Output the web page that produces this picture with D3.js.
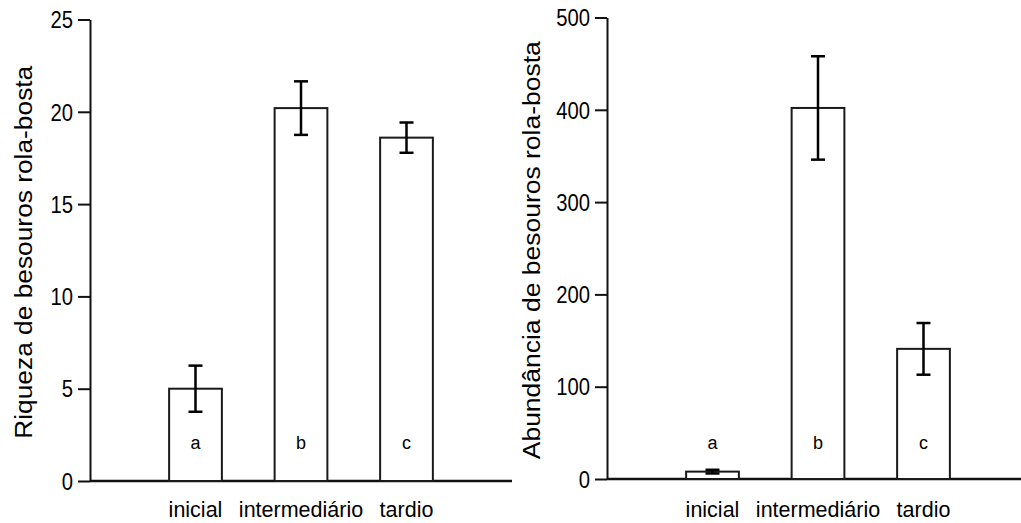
<!DOCTYPE html>
<html>
<head>
<meta charset="utf-8">
<script src="https://cdn.jsdelivr.net/npm/d3@7"></script>
<style>
  html, body { margin: 0; padding: 0; background: #fff; }
  svg { display: block; font-family: "Liberation Sans", Arial, sans-serif; }
</style>
</head>
<body>
<svg id="chart" width="1021" height="523"></svg>
<script>
// Successional stages
const categories = ["inicial", "intermediário", "tardio"];

// Species richness (mean ± error)
const richnessMean = [5.0, 20.2, 18.6];
const richnessErr  = [1.25, 1.45, 0.82];
const richnessTicks = [0, 5, 10, 15, 20, 25];

// Abundance (mean ± error)
const abundanceMean = [8, 402, 141];
const abundanceErr  = [2, 56, 28];
const abundanceTicks = [0, 100, 200, 300, 400, 500];

// Significance letters
const groupLetters = ["a", "b", "c"];

const svg = d3.select("#chart");

function drawPanel(opts) {
  const { x0, x1, yBottom, yTop, yMax, means, errs, ticks, title, titleX, titleLen } = opts;
  const g = svg.append("g");

  const x = d3.scalePoint().domain(categories).range([x0, x1]).padding(1);
  const y = d3.scaleLinear().domain([0, yMax]).range([yBottom, yTop]);
  const barW = x.step() * 0.5;

  // y axis
  const tickScale = 0.88;
  const axis = d3.axisLeft(y).tickValues(ticks).tickSize(12).tickSizeOuter(0).tickPadding(0);
  const ax = g.append("g").attr("transform", `translate(${x0},0)`).call(axis);
  ax.select(".domain").attr("stroke", "#111").attr("stroke-width", 2);
  ax.selectAll(".tick line").attr("stroke", "#111").attr("stroke-width", 2);
  ax.selectAll(".tick text")
    .attr("fill", "#000")
    .attr("font-size", 23)
    .attr("font-family", "Liberation Sans, Arial, sans-serif")
    .attr("x", -17 / tickScale)
    .attr("dy", "0.36em")
    .attr("transform", `scale(${tickScale},1)`);

  // baseline
  g.append("line")
    .attr("x1", x0).attr("x2", x1)
    .attr("y1", y(0)).attr("y2", y(0))
    .attr("stroke", "#111").attr("stroke-width", 2.5);

  // bars
  g.selectAll("rect.bar").data(categories).join("rect")
    .attr("class", "bar")
    .attr("x", d => x(d) - barW / 2)
    .attr("width", barW)
    .attr("y", (d, i) => y(means[i]))
    .attr("height", (d, i) => y(0) - y(means[i]))
    .attr("fill", "#fff")
    .attr("stroke", "#1a1a1a")
    .attr("stroke-width", 2);

  // error bars
  const capW = 14;
  const eb = g.selectAll("g.err").data(categories).join("g").attr("class", "err");
  eb.append("line")
    .attr("x1", d => x(d)).attr("x2", d => x(d))
    .attr("y1", (d, i) => y(means[i] + errs[i]))
    .attr("y2", (d, i) => y(means[i] - errs[i]))
    .attr("stroke", "#000").attr("stroke-width", 2.5);
  [1, -1].forEach(s => {
    eb.append("line")
      .attr("x1", d => x(d) - capW / 2).attr("x2", d => x(d) + capW / 2)
      .attr("y1", (d, i) => y(means[i] + s * errs[i]))
      .attr("y2", (d, i) => y(means[i] + s * errs[i]))
      .attr("stroke", "#000").attr("stroke-width", 2.5);
  });

  // letters
  g.selectAll("text.letter").data(categories).join("text")
    .attr("class", "letter")
    .attr("x", d => x(d))
    .attr("y", 449)
    .attr("text-anchor", "middle")
    .attr("font-size", 18)
    .attr("fill", "#000")
    .text((d, i) => groupLetters[i]);

  // category labels
  g.selectAll("text.cat").data(categories).join("text")
    .attr("class", "cat")
    .attr("x", d => x(d))
    .attr("y", 517)
    .attr("text-anchor", "middle")
    .attr("font-size", 21.5)
    .attr("fill", "#000")
    .text(d => d);

  // y title
  const mid = (yTop + yBottom) / 2 + 2;
  g.append("text")
    .attr("transform", `translate(${titleX},${mid}) rotate(-90)`)
    .attr("text-anchor", "middle")
    .attr("font-size", 23)
    .attr("fill", "#000")
    .attr("textLength", titleLen)
    .attr("lengthAdjust", "spacingAndGlyphs")
    .text(title);
}

drawPanel({
  x0: 90, x1: 512, yBottom: 481, yTop: 19.5, yMax: 25,
  means: richnessMean, errs: richnessErr, ticks: richnessTicks,
  title: "Riqueza de besouros rola-bosta", titleX: 32, titleLen: 373
});

drawPanel({
  x0: 607, x1: 1029, yBottom: 479, yTop: 17.5, yMax: 500,
  means: abundanceMean, errs: abundanceErr, ticks: abundanceTicks,
  title: "Abundância de besouros rola-bosta", titleX: 540, titleLen: 418
});
</script>
</body>
</html>
